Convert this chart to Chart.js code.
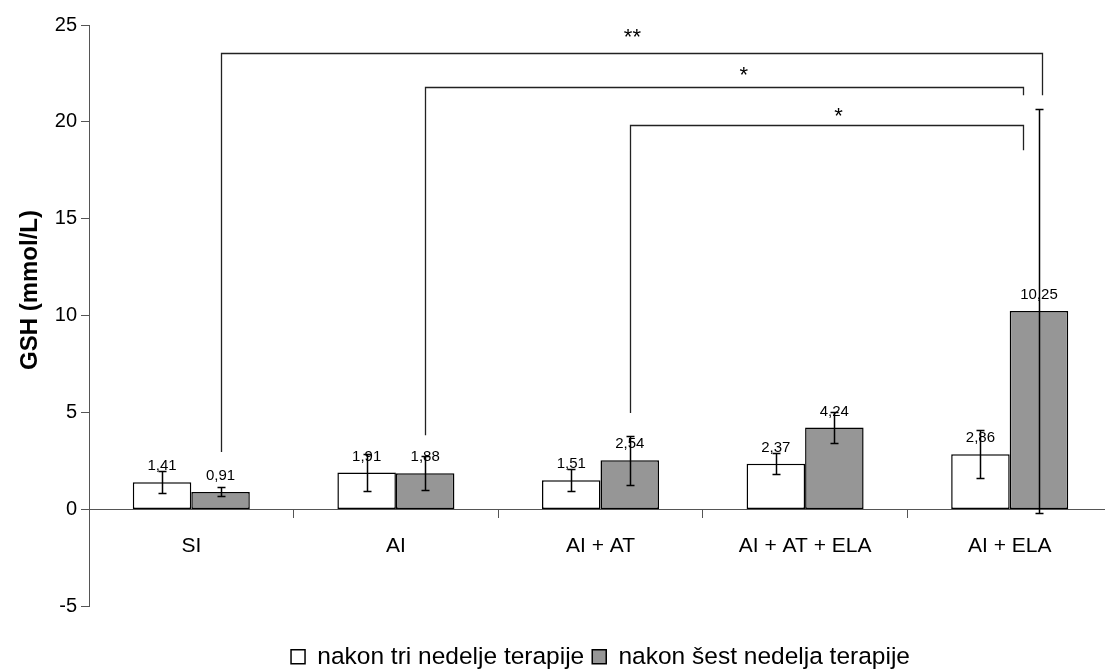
<!DOCTYPE html>
<html>
<head>
<meta charset="utf-8">
<script src="https://cdn.jsdelivr.net/npm/chart.js@4.4.1/dist/chart.umd.min.js"></script>
<style>
  html, body { margin: 0; background: #fff; overflow: hidden; }
  #wrap { width: 1105px; height: 671px; overflow: hidden; }
</style>
</head>
<body>
<!-- the original picture is cut at the right and bottom edge, so the canvas is a bit larger than the window -->
<div id="wrap"><canvas id="myChart" width="1113" height="679"></canvas></div>
<script>
// data
var groups = ["SI", "AI", "AI + AT", "AI + AT + ELA", "AI + ELA"];
var threeWeeks = [1.41, 1.91, 1.51, 2.37, 2.86];
var sixWeeks = [0.91, 1.88, 2.54, 4.24, 10.25];
var threeWeeksErr = [0.57, 0.94, 0.56, 0.53, 1.24];
var sixWeeksErr = [0.23, 0.86, 1.27, 0.81, 10.41];
var yTicks = [-5, 0, 5, 10, 15, 20, 25];

// significance brackets (left leg sits on the 6-week bar, right end in category units)
var brackets = [
  { label: "**", from: 0, to: 4.159, legFrom: 2.97, top: 23.55, legTo: 21.37, textX: 2.156, textY: 24.46 },
  { label: "*", from: 1, to: 4.066, legFrom: 3.83, top: 21.8, legTo: 21.37, textX: 2.70, textY: 22.49 },
  { label: "*", from: 2, to: 4.066, legFrom: 4.98, top: 19.83, legTo: 18.54, textX: 3.164, textY: 20.38 },
];

var errors = [threeWeeksErr, sixWeeksErr];

function catX(xScale, v) {
  var w = xScale.width / groups.length;
  return xScale.left + (v + 0.5) * w;
}

// error bars + value labels
var barExtras = {
  id: "barExtras",
  afterDatasetsDraw: function (chart) {
    var ctx = chart.ctx;
    var y = chart.scales.y;
    ctx.save();
    chart.data.datasets.forEach(function (ds, i) {
      var meta = chart.getDatasetMeta(i);
      meta.data.forEach(function (bar, j) {
        var v = ds.data[j];
        var e = errors[i][j];
        var yt = Math.round(y.getPixelForValue(v + e)) + 0.5;
        var yb = Math.round(y.getPixelForValue(v - e)) + 0.5;
        var x = Math.round(bar.x) + 0.5;
        ctx.strokeStyle = "#000";
        ctx.lineWidth = 1.5;
        ctx.beginPath();
        ctx.moveTo(x, yt); ctx.lineTo(x, yb);
        ctx.moveTo(x - 4, yt); ctx.lineTo(x + 4, yt);
        ctx.moveTo(x - 4, yb); ctx.lineTo(x + 4, yb);
        ctx.stroke();
        ctx.fillStyle = "#000";
        ctx.font = "15px 'Liberation Sans', Arial, sans-serif";
        ctx.textAlign = "center";
        ctx.textBaseline = "middle";
        ctx.fillText(v.toFixed(2).replace(".", ","), bar.x, bar.y - 16);
      });
    });
    ctx.restore();
  }
};

// brackets with stars + y axis title
var annotations = {
  id: "annotations",
  afterDraw: function (chart) {
    var ctx = chart.ctx;
    var xs = chart.scales.x, ys = chart.scales.y;
    var gray = chart.getDatasetMeta(1).data;
    ctx.save();
    ctx.strokeStyle = "#222";
    ctx.lineWidth = 1.3;
    brackets.forEach(function (b) {
      var x1 = Math.round(gray[b.from].x) + 0.5;
      var x2 = Math.round(catX(xs, b.to)) + 0.5;
      var yTop = Math.round(ys.getPixelForValue(b.top)) + 0.5;
      ctx.beginPath();
      ctx.moveTo(x1, ys.getPixelForValue(b.legFrom));
      ctx.lineTo(x1, yTop);
      ctx.lineTo(x2, yTop);
      ctx.lineTo(x2, ys.getPixelForValue(b.legTo));
      ctx.stroke();
      ctx.fillStyle = "#000";
      ctx.font = "22px 'Liberation Sans', Arial, sans-serif";
      ctx.textAlign = "center";
      ctx.textBaseline = "middle";
      ctx.fillText(b.label, catX(xs, b.textX), ys.getPixelForValue(b.textY) + 2);
    });
    // y axis title
    ctx.translate(30, 290);
    ctx.rotate(-Math.PI / 2);
    ctx.font = "bold 24px 'Liberation Sans', Arial, sans-serif";
    ctx.textAlign = "center";
    ctx.textBaseline = "middle";
    ctx.fillText("GSH (mmol/L)", 0, 0);
    ctx.restore();
  }
};

Chart.defaults.font.family = "'Liberation Sans', Arial, sans-serif";
Chart.defaults.color = "#000";

const ctx = document.getElementById("myChart").getContext("2d");
const myChart = new Chart(ctx, {
  type: "bar",
  data: {
    labels: groups,
    datasets: [
      {
        label: "nakon tri nedelje terapije",
        data: threeWeeks,
        backgroundColor: "#ffffff",
        borderColor: "#000000",
        borderWidth: 1.5,
        borderSkipped: false,
      },
      {
        label: "nakon šest nedelja terapije",
        data: sixWeeks,
        backgroundColor: "#969696",
        borderColor: "#000000",
        borderWidth: 1.5,
        borderSkipped: false,
      },
    ],
  },
  options: {
    responsive: false,
    animation: false,
    categoryPercentage: 0.572,
    barPercentage: 1.0,
    layout: {
      padding: { left: 0, right: 1, top: 25, bottom: 0 },
    },
    scales: {
      x: {
        position: { y: 0 },
        grid: {
          drawOnChartArea: false,
          drawTicks: true,
          tickLength: 8,
          offset: true,
          color: "#555",
        },
        border: { color: "#555", width: 1 },
        ticks: {
          font: { size: 21 },
          padding: 16,
        },
      },
      y: {
        min: -5,
        max: 25,
        afterBuildTicks: function (scale) {
          scale.ticks = yTicks.map(function (v) { return { value: v }; });
        },
        afterFit: function (scale) {
          scale.width = 89;
        },
        grid: {
          drawOnChartArea: false,
          drawTicks: true,
          tickLength: 8,
          color: "#555",
        },
        border: { color: "#555", width: 1 },
        ticks: {
          font: { size: 20 },
          padding: 4,
        },
      },
    },
    plugins: {
      legend: {
        position: "bottom",
        fullSize: false,
        // empty legend title only makes the gap between the axis and the legend
        title: { display: true, text: "", font: { size: 20 }, padding: { top: 6, bottom: 0 } },
        labels: {
          font: { size: 24.5 },
          boxWidth: 14,
          boxHeight: 14,
          padding: 8,
          color: "#000",
        },
      },
      tooltip: { enabled: false },
    },
  },
  plugins: [barExtras, annotations],
});
</script>
</body>
</html>
